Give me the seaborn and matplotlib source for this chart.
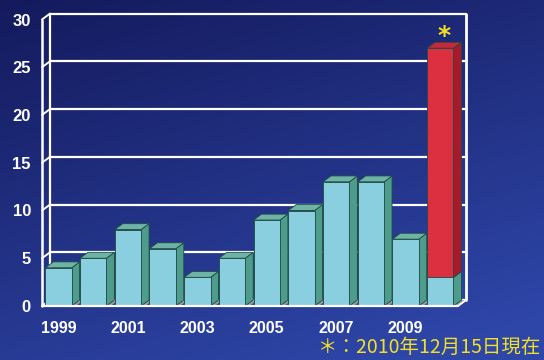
import numpy as np
import pandas as pd
import matplotlib
matplotlib.use("Agg")
import matplotlib.pyplot as plt
from matplotlib.patches import Polygon
import seaborn as sns

years = [1999, 2000, 2001, 2002, 2003, 2004, 2005, 2006, 2007, 2008, 2009, 2010]
base_vals = [4, 5, 8, 6, 3, 5, 9, 10, 13, 13, 7, 3]
extra_vals = [0, 0, 0, 0, 0, 0, 0, 0, 0, 0, 0, 24]
tick_years = [1999, 2001, 2003, 2005, 2007, 2009]
y_ticks = [0, 5, 10, 15, 20, 25, 30]
note_text = "＊：2010年12月15日現在"

sns.set_style("white")
plt.rcParams['font.family'] = ['Liberation Sans Narrow', 'Liberation Sans', 'DejaVu Sans']

df = pd.DataFrame({"year": [str(y) for y in years],
                   "base": base_vals,
                   "total": [b + e for b, e in zip(base_vals, extra_vals)]})

fig = plt.figure(figsize=(5.44, 3.6), dpi=100)

# background gradient
bg = fig.add_axes([0, 0, 1, 1], zorder=-10)
yy, xx = np.mgrid[0:1:200j, 0:1:300j]
t = np.clip(0.75 * yy + 0.35 * xx, 0, 1)
top = np.array([0x14, 0x1a, 0x5c]) / 255
bot = np.array([0x2e, 0x46, 0xa8]) / 255
img = top[None, None, :] * (1 - t[..., None]) + bot[None, None, :] * t[..., None]
bg.imshow(img, aspect='auto', origin='upper', extent=[0, 1, 0, 1])
bg.set_axis_off()

ax = fig.add_axes([42 / 544, 54 / 360, 416 / 544, 286.5 / 360])
ax.patch.set_alpha(0)

CYAN = "#8acfdf"
CYAN_SIDE = "#4e9c8c"
CYAN_TOP = "#6db4a4"
RED = "#dc3040"
RED_SIDE = "#a81a2a"
RED_TOP = "#c8283a"
EDGE = "#1f4a44"
FLOOR = "#9a9aa0"
DX, DY = 0.23, 0.62
WIDTH = 0.76

order = [str(y) for y in years]
sns.barplot(data=df, x="year", y="total", order=order, color=RED, width=WIDTH,
            saturation=1, ax=ax, zorder=3, edgecolor=EDGE, linewidth=0.6)
sns.barplot(data=df, x="year", y="base", order=order, color=CYAN, width=WIDTH,
            saturation=1, ax=ax, zorder=3.1, edgecolor=EDGE, linewidth=0.6)

xmin, xmax = -0.475, 11.51
ymax = 30
ax.set_xlim(xmin, xmax)
ax.set_ylim(0, ymax)

# 3D side and top faces, small floor shadows
for i, (b, e) in enumerate(zip(base_vals, extra_vals)):
    x0 = i - WIDTH / 2
    x1 = i + WIDTH / 2
    ax.add_patch(Polygon([(x1, 0), (x1 + DX, DY), (x1 + DX + 0.12, DY), (x1 + 0.12, 0)],
                         closed=True, facecolor=FLOOR, edgecolor="none", zorder=2.2,
                         clip_on=False))
    segs = [(0, b, CYAN_SIDE)]
    if e > 0:
        segs.append((b, b + e, RED_SIDE))
    for lo, hi, c in segs:
        ax.add_patch(Polygon([(x1, lo), (x1 + DX, lo + DY), (x1 + DX, hi + DY), (x1, hi)],
                             closed=True, facecolor=c, edgecolor=EDGE, lw=0.6, zorder=2.5,
                             clip_on=False))
    h = b + e
    ax.add_patch(Polygon([(x0, h), (x0 + DX, h + DY), (x1 + DX, h + DY), (x1, h)],
                         closed=True, facecolor=RED_TOP if e > 0 else CYAN_TOP,
                         edgecolor=EDGE, lw=0.6, zorder=2.5, clip_on=False))

# walls and gridlines
wl = dict(color="white", lw=1.6, clip_on=False, zorder=1)
for yv in y_ticks:
    ax.plot([xmin + DX, xmax + DX], [yv + DY, yv + DY], **wl)
    ax.plot([xmin, xmin + DX], [yv, yv + DY], color="white", lw=1.4, clip_on=False, zorder=1)
ax.plot([xmin, xmin], [0, ymax], color="white", lw=1.8, clip_on=False, zorder=4)
ax.plot([xmin + DX, xmin + DX], [0 + DY, ymax + DY], **wl)
ax.plot([xmax + DX, xmax + DX], [0 + DY, ymax + DY], color="white", lw=2.0, clip_on=False, zorder=1)
ax.plot([xmin, xmax], [0, 0], color="white", lw=1.6, clip_on=False, zorder=4)
ax.plot([xmax, xmax + DX], [0, DY], color="white", lw=1.4, clip_on=False, zorder=4)

for s in ax.spines.values():
    s.set_visible(False)

ax.set_yticks(y_ticks)
ax.set_yticklabels([str(v) for v in y_ticks], color="white", fontsize=12, fontweight="bold")
ax.set_xticks([years.index(y) for y in tick_years])
ax.set_xticklabels([str(y) for y in tick_years], color="white", fontsize=11.5, fontweight="bold")
ax.tick_params(axis="y", length=0, pad=8)
ax.tick_params(axis="x", length=0, pad=11)
ax.set_xlabel("")
ax.set_ylabel("")
ax.grid(False)

# asterisk above the highlighted bar
last = len(years) - 1
ax.text(last + DX / 2, base_vals[last] + extra_vals[last] + 1.3, "*", color="#f0e020",
        fontsize=18, fontweight="bold", ha="center", va="center", clip_on=False,
        family=["DejaVu Sans"])

fig.text(0.995, 0.035, note_text, color="#f0e028", fontsize=14, ha="right", va="center",
         family=["Noto Sans CJK JP", "DejaVu Sans"])

fig.savefig("out.png", dpi=100)
